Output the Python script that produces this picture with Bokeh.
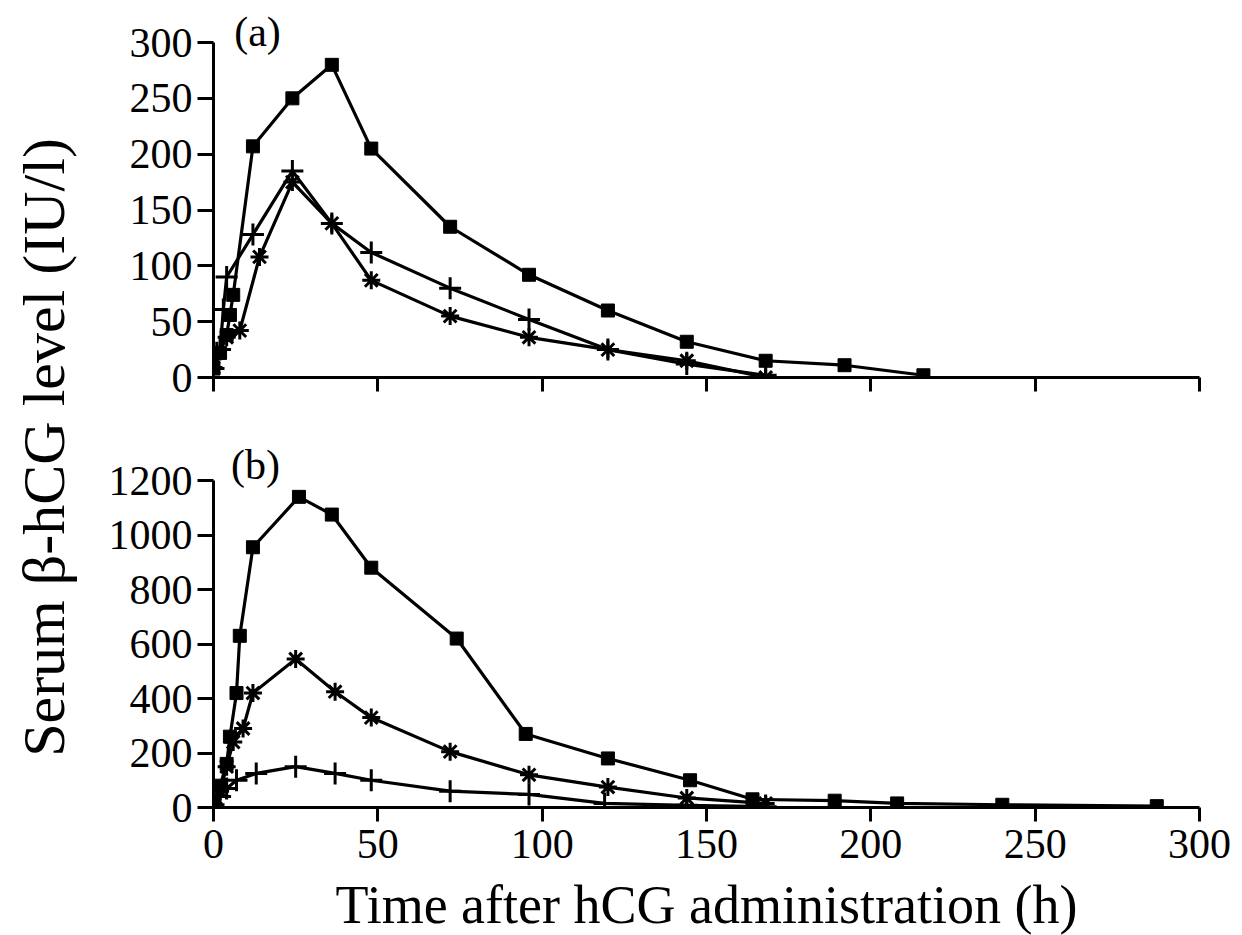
import math
from bokeh.plotting import figure
from bokeh.layouts import row, column
from bokeh.models import Range1d, Label, FixedTicker
from bokeh.embed import file_html
from bokeh.resources import INLINE

# ---------------- data ----------------
x_ticks = [0, 50, 100, 150, 200, 250, 300]
a_y_ticks = [0, 50, 100, 150, 200, 250, 300]
b_y_ticks = [0, 200, 400, 600, 800, 1000, 1200]

# panel (a)
a_sq_t = [0, 2, 4, 5, 6, 12, 24, 36, 48, 72, 96, 120, 144, 168, 192, 216]
a_sq_v = [8, 22, 38, 56, 74, 207, 250, 280, 205, 135, 92, 60, 32, 15, 11, 2]
a_pl_t = [0, 2, 3, 4, 12, 24, 36, 48, 72, 96, 120, 144, 168]
a_pl_v = [8, 25, 61, 90, 128, 185, 138, 112, 80, 52, 25, 12, 2]
a_st_t = [0, 1, 4, 8, 14, 24, 36, 48, 72, 96, 120, 144, 168]
a_st_v = [9, 24, 36, 42, 108, 175, 138, 87, 55, 36, 25, 15, 0]

# panel (b)
b_sq_t = [0, 2, 4, 5, 7, 8, 12, 26, 36, 48, 74, 95, 120, 145, 164, 189, 208, 240, 287]
b_sq_v = [20, 80, 160, 260, 420, 630, 955, 1140, 1075, 880, 620, 270, 180, 100, 30, 25, 15, 10, 5]
b_pl_t = [0, 2, 4, 7, 13, 25, 37, 48, 72, 96, 119, 144, 168]
b_pl_v = [10, 40, 70, 100, 125, 150, 125, 100, 60, 48, 15, 8, 3]
b_st_t = [0, 2, 4, 6, 9, 12, 25, 37, 48, 72, 96, 120, 144, 168]
b_st_v = [15, 60, 150, 240, 290, 420, 545, 425, 330, 205, 120, 75, 35, 15]

y_title = "Serum β-hCG level (IU/l)"
x_title = "Time after hCG administration (h)"

FONT = "Liberation Serif"


def style_axes(p, y_ticks, y_max, show_x_labels):
    p.xgrid.visible = False
    p.ygrid.visible = False
    p.outline_line_color = None
    for ax in (p.xaxis[0], p.yaxis[0]):
        ax.axis_line_width = 3
        ax.axis_line_color = "black"
        ax.major_tick_line_width = 3
        ax.major_tick_line_color = "black"
        ax.minor_tick_line_color = None
        ax.major_tick_in = 0
        ax.major_tick_out = 16
        ax.major_label_text_font = FONT
        ax.major_label_text_font_size = "42px"
        ax.major_label_text_color = "black"
        ax.major_label_standoff = 5
    p.xaxis[0].ticker = FixedTicker(ticks=x_ticks)
    p.yaxis[0].ticker = FixedTicker(ticks=y_ticks)
    p.yaxis[0].bounds = (0, y_max)
    p.xaxis[0].major_tick_out = 14
    if not show_x_labels:
        p.xaxis[0].major_label_overrides = {t: "" for t in x_ticks}


def draw_series(p, sq_t, sq_v, pl_t, pl_v, st_t, st_v):
    lw = 3.2
    p.line(sq_t, sq_v, line_color="black", line_width=lw)
    p.scatter(sq_t, sq_v, marker="square", size=13, fill_color="black", line_color="black")
    p.line(pl_t, pl_v, line_color="black", line_width=lw)
    p.scatter(pl_t, pl_v, marker="cross", size=22, line_color="black", line_width=3)
    p.line(st_t, st_v, line_color="black", line_width=lw)
    p.scatter(st_t, st_v, marker="asterisk", size=18, line_color="black", line_width=3)


# ---------------- top panel (a) ----------------
# frame extended 34 px above the 300 tick so the "(a)" label fits inside it
top_ext = 34
a_ymax = 300 + top_ext * 300 / 335
p1 = figure(frame_width=986, frame_height=335 + top_ext,
            x_range=Range1d(0, 300), y_range=Range1d(0, a_ymax),
            output_backend="svg", toolbar_location=None,
            min_border_left=123, min_border_right=43,
            min_border_top=42 - top_ext, min_border_bottom=40)
style_axes(p1, a_y_ticks, 300, show_x_labels=False)
draw_series(p1, a_sq_t, a_sq_v, a_pl_t, a_pl_v, a_st_t, a_st_v)
p1.add_layout(Label(x=13.4, y=309, text="(a)", text_font=FONT, text_font_size="42px",
                    text_align="center", text_baseline="middle", text_color="black"))

# ---------------- bottom panel (b) ----------------
bot_ext = 40
b_ymax = 1200 + bot_ext * 1200 / 327
p2 = figure(frame_width=986, frame_height=327 + bot_ext,
            x_range=Range1d(0, 300), y_range=Range1d(0, b_ymax),
            output_backend="svg", toolbar_location=None,
            min_border_left=123, min_border_right=43,
            min_border_top=63 - bot_ext, min_border_bottom=120)
style_axes(p2, b_y_ticks, 1200, show_x_labels=True)
p2.xaxis[0].axis_label = x_title
p2.xaxis[0].axis_label_text_font = FONT
p2.xaxis[0].axis_label_text_font_size = "54px"
p2.xaxis[0].axis_label_text_font_style = "normal"
p2.xaxis[0].axis_label_text_color = "black"
p2.xaxis[0].axis_label_standoff = 14
p2.xaxis[0].major_label_standoff = 8
draw_series(p2, b_sq_t, b_sq_v, b_pl_t, b_pl_v, b_st_t, b_st_v)
p2.add_layout(Label(x=12.8, y=1257, text="(b)", text_font=FONT, text_font_size="42px",
                    text_align="center", text_baseline="middle", text_color="black"))

# ---------------- shared y label ----------------
pl = figure(width=90, height=935, x_range=Range1d(0, 90), y_range=Range1d(0, 935),
            x_axis_type=None, y_axis_type=None, output_backend="svg",
            toolbar_location=None, min_border=0)
pl.outline_line_color = None
pl.add_layout(Label(x=43, y=935 - 447, text=y_title, angle=math.pi / 2,
                    text_font=FONT, text_font_size="60px", text_align="center",
                    text_baseline="middle", text_color="black"))

layout = row(pl, column(p1, p2, spacing=0), spacing=0)
open("out.html", "w").write(file_html(layout, INLINE))
